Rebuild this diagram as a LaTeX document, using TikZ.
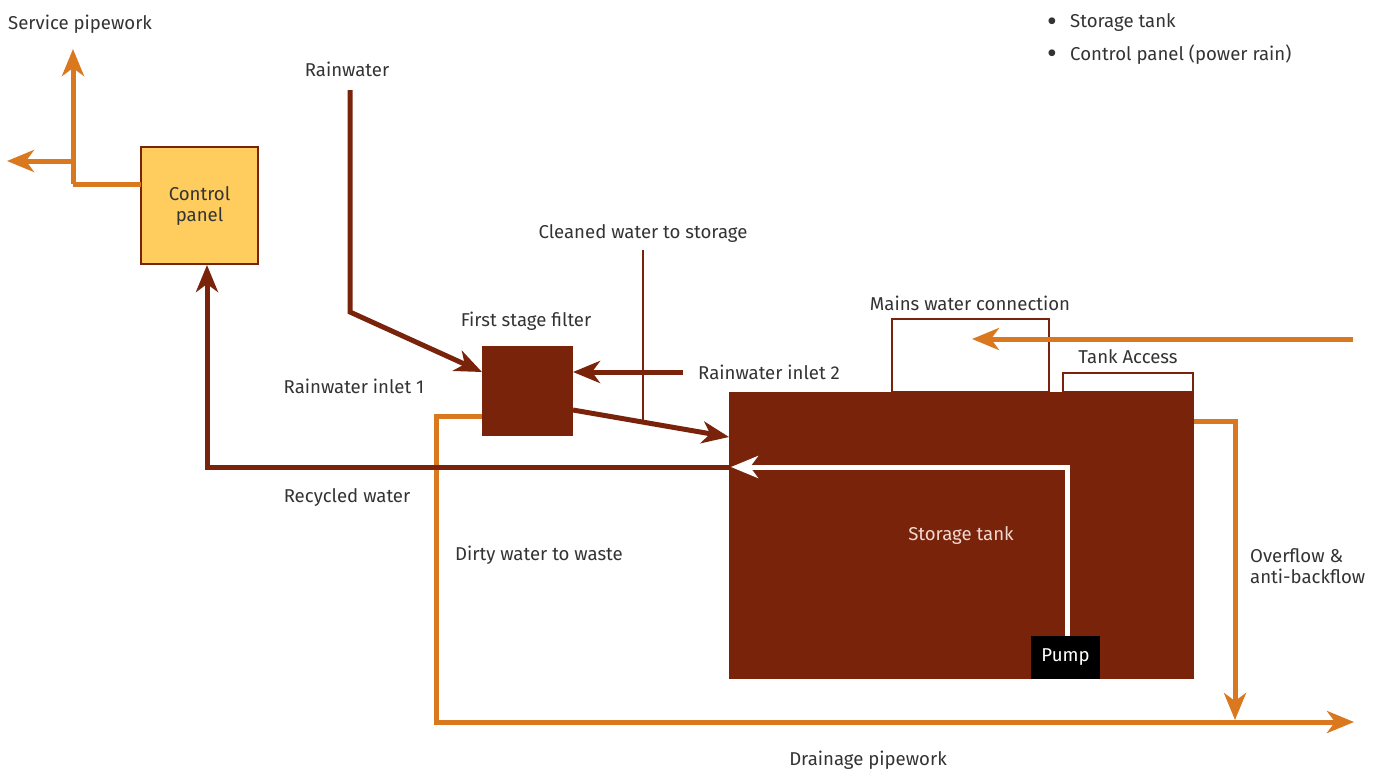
\documentclass[tikz,border=0pt]{standalone}
\usepackage{fontspec}
\setmainfont{Fira Sans}
\usetikzlibrary{arrows.meta}
\definecolor{pipebrown}{HTML}{79230A}
\definecolor{pipeorange}{HTML}{D9781F}
\definecolor{panelyellow}{HTML}{FFCC5E}
\definecolor{txtgray}{HTML}{333333}
\definecolor{tanktxt}{HTML}{F2D9D0}
\begin{document}
\begin{tikzpicture}[x=1pt,y=-1pt,
  every node/.style={font=\fontsize{18.6}{22}\selectfont, text=txtgray, inner sep=0pt},
  tip/.style={-{Stealth[length=27pt,width=22pt,inset=8pt]}},
  brownpipe/.style={draw=pipebrown, line width=5pt},
  orangepipe/.style={draw=pipeorange, line width=5pt},
  whitepipe/.style={draw=white, line width=5pt},
  box/.style={outer sep=0pt},
  bul/.style={font=\fontsize{30}{30}\selectfont}
]
\useasboundingbox (0,0) rectangle (1383,772);

% boxes
\node[draw=pipebrown, line width=2.5pt, box, minimum width=157pt, minimum height=73pt, anchor=north west] (mains) at (892,319) {};
\node[draw=pipebrown, line width=2.5pt, box, minimum width=130pt, minimum height=19pt, anchor=north west] (access) at (1063,373) {};
\node[fill=pipebrown, box, minimum width=465pt, minimum height=287pt, anchor=north west] (tank) at (729,392) {};
\node[fill=pipebrown, box, minimum width=91pt, minimum height=90pt, anchor=north west] (filter) at (482,346) {};
\node[fill=panelyellow, draw=pipebrown, line width=2.5pt, box, minimum width=117pt, minimum height=117pt, anchor=north west, align=center] (cp) at (141,147) {Control\\[-1pt]panel};
\node[fill=black, box, minimum width=69pt, minimum height=43pt, anchor=north west] (pump) at (1031,636) {};
\node[text=white] (pumptxt) at (pump.center) {Pump};

% coordinates
\coordinate (sp0) at (141,184);
\coordinate (sp1) at (73,184);
\coordinate (sp2) at (73,49);
\coordinate (sp3) at (73,161);
\coordinate (sp4) at (7,161);
\coordinate (rw0) at (350,90);
\coordinate (rw1) at (350,312);
\coordinate (rw2) at (482,372);
\coordinate (ri2) at (683,372);
\coordinate (ri2e) at (573,372);
\coordinate (ft0) at (573,410);
\coordinate (ft1) at (729,437);
\coordinate (cw0) at (643,250);
\coordinate (cw1) at (643,420);
\coordinate (rc0) at (729,467);
\coordinate (rc1) at (207,467);
\coordinate (rc2) at (207,265);
\coordinate (wp0) at (1067,636);
\coordinate (wp1) at (1067,467);
\coordinate (wp2) at (731,467);
\coordinate (mw0) at (1353,339);
\coordinate (mw1) at (972,339);
\coordinate (dr0) at (482,416);
\coordinate (dr1) at (436,416);
\coordinate (dr2) at (436,722);
\coordinate (dr3) at (1354,722);
\coordinate (of0) at (1194,421);
\coordinate (of1) at (1235,421);
\coordinate (of2) at (1235,720);

% orange pipes
\draw[orangepipe] (sp0) -- (sp1);
\draw[orangepipe, tip] (sp1) -- (sp2);
\draw[orangepipe, tip] (sp3) -- (sp4);
\draw[orangepipe, tip] (mw0) -- (mw1);
\draw[orangepipe, tip] (dr0) -- (dr1) -- (dr2) -- (dr3);
\draw[orangepipe, tip] (of0) -- (of1) -- (of2);

% brown pipes
\draw[brownpipe, tip] (rw0) -- (rw1) -- (rw2);
\draw[brownpipe, tip] (ri2) -- (ri2e);
\draw[brownpipe, tip] (ft0) -- (ft1);
\draw[draw=pipebrown, line width=1.5pt] (cw0) -- (cw1);
\draw[brownpipe, tip] (rc0) -- (rc1) -- (rc2);
\draw[whitepipe, tip] (wp0) -- (wp1) -- (wp2);

% labels
\node[anchor=west] (t1) at (8,24) {Service pipework};
\node (t2) at (347,69) {Rainwater};
\node (t3) at (526,321) {First stage filter};
\node (t4) at (354,386) {Rainwater inlet 1};
\node[anchor=west] (t5) at (698,372) {Rainwater inlet 2};
\node (t6) at (643,233) {Cleaned water to storage};
\node (t7) at (970,303) {Mains water connection};
\node (t8) at (1128,357) {Tank Access};
\node (t9) at (347,497) {Recycled water};
\node (t10) at (539,555) {Dirty water to waste};
\node[text=tanktxt] (t11) at (961,535) {Storage tank};
\node[anchor=west, align=left] (t12) at (1250,566) {Overflow \&\\[-1pt]anti-backflow};
\node (t13) at (868,760) {Drainage pipework};
\node[bul] (b1d) at (1052,25) {•};
\node[anchor=west] (b1) at (1070,23) {Storage tank};
\node[bul] (b2d) at (1052,57) {•};
\node[anchor=west] (b2) at (1070,55) {Control panel (power rain)};
\end{tikzpicture}
\end{document}
